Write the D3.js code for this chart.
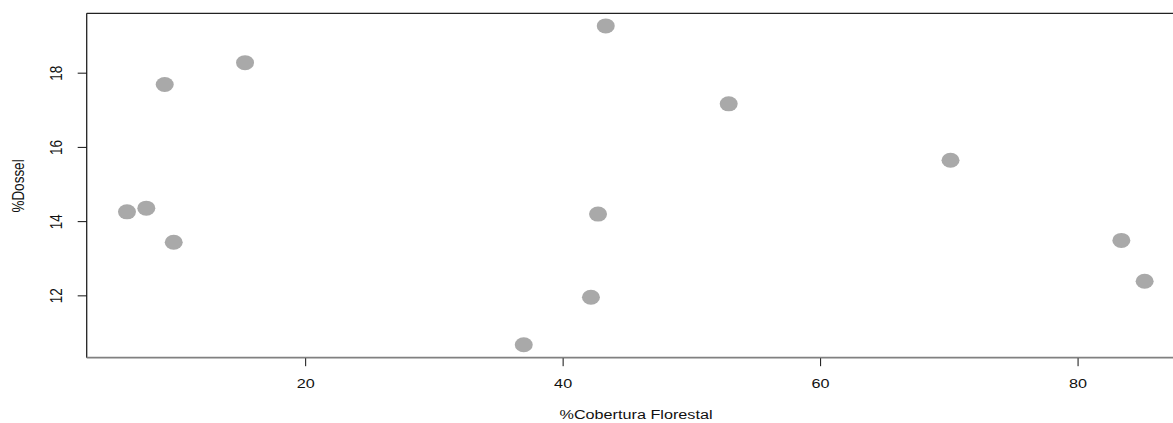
<!DOCTYPE html>
<html>
<head>
<meta charset="utf-8">
<script src="https://cdn.jsdelivr.net/npm/d3@7"></script>
<style>
  body { margin: 0; background: #fff; overflow: hidden; }
  svg { display: block; font-family: 'Liberation Sans', Arial, sans-serif; }
  .axis text { font-size: 13.5px; fill: #111; }
  .axis line { stroke: #111; }
</style>
</head>
<body>
<div class="container"></div>
<script>
const w = 1173;
const h = 423;
const stretch = 'scale(1.2,1)'; // reference is stretched horizontally

// %Cobertura Florestal vs %Dossel
const cobertura = [6.16, 7.66, 9.09, 9.79, 15.33, 36.98, 42.2, 42.75, 43.35, 52.9, 70.13, 83.4, 85.21];
const dossel = [14.25, 14.35, 17.68, 13.43, 18.27, 10.67, 11.95, 14.19, 19.26, 17.16, 15.64, 13.48, 12.38];
const xTicks = [20, 40, 60, 80];
const yTicks = [12, 14, 16, 18];

const dataset = cobertura.map((c, i) => ({ x: c, y: dossel[i] }));

// plot region
const pLeft = 86.7;
const pRight = 1187;
const pTop = 13.3;
const pBottom = 357.7;

const xScale = d3.scaleLinear()
  .domain([3.03, 88.5])
  .range([pLeft, pRight]);

const yScale = d3.scaleLinear()
  .domain([10.32, 19.6])
  .range([pBottom, pTop]);

const svg = d3.select('.container')
  .append('svg')
  .attr('width', w)
  .attr('height', h);

// Points
svg.selectAll('.dot')
  .data(dataset)
  .enter()
  .append('ellipse')
  .attr('class', 'dot')
  .attr('cx', (d) => xScale(d.x))
  .attr('cy', (d) => yScale(d.y))
  .attr('rx', 9)
  .attr('ry', 7.5)
  .style('fill', '#a9a9a9');

// Box
svg.append('line')
  .attr('x1', pLeft).attr('x2', w)
  .attr('y1', pTop).attr('y2', pTop)
  .style('stroke', '#222').style('stroke-width', 1.3);
svg.append('line')
  .attr('x1', pLeft).attr('x2', pLeft)
  .attr('y1', pTop).attr('y2', pBottom)
  .style('stroke', '#222').style('stroke-width', 1.3);
svg.append('line')
  .attr('x1', pLeft).attr('x2', w)
  .attr('y1', pBottom).attr('y2', pBottom)
  .style('stroke', '#808080').style('stroke-width', 1.8);

// x axis
const xAxis = d3.axisBottom(xScale)
  .tickValues(xTicks)
  .tickSize(8)
  .tickPadding(12)
  .tickFormat(d3.format('d'));
const gx = svg.append('g')
  .attr('class', 'axis')
  .attr('transform', 'translate(0,' + (pBottom + 0.5) + ')')
  .call(xAxis);
gx.select('.domain').remove();
gx.selectAll('text').attr('transform', stretch);

// y axis
const yAxis = d3.axisLeft(yScale)
  .tickValues(yTicks)
  .tickSize(9)
  .tickFormat(d3.format('d'));
const gy = svg.append('g')
  .attr('class', 'axis')
  .attr('transform', 'translate(' + pLeft + ',0)')
  .call(yAxis);
gy.select('.domain').remove();
gy.selectAll('text')
  .attr('x', 0)
  .attr('dy', null)
  .attr('text-anchor', 'middle')
  .attr('transform', 'translate(-28.5,0) ' + stretch + ' rotate(-90)')
  .attr('dominant-baseline', 'middle');

// axis labels
svg.append('text')
  .text('%Cobertura Florestal')
  .attr('transform', 'translate(636,419) ' + stretch)
  .attr('text-anchor', 'middle')
  .style('font-size', '13.5px')
  .style('fill', '#111');

svg.append('text')
  .text('%Dossel')
  .attr('transform', 'translate(19.5,186) ' + stretch + ' rotate(-90)')
  .attr('text-anchor', 'middle')
  .attr('dominant-baseline', 'middle')
  .style('font-size', '13.5px')
  .style('fill', '#111');
</script>
</body>
</html>
